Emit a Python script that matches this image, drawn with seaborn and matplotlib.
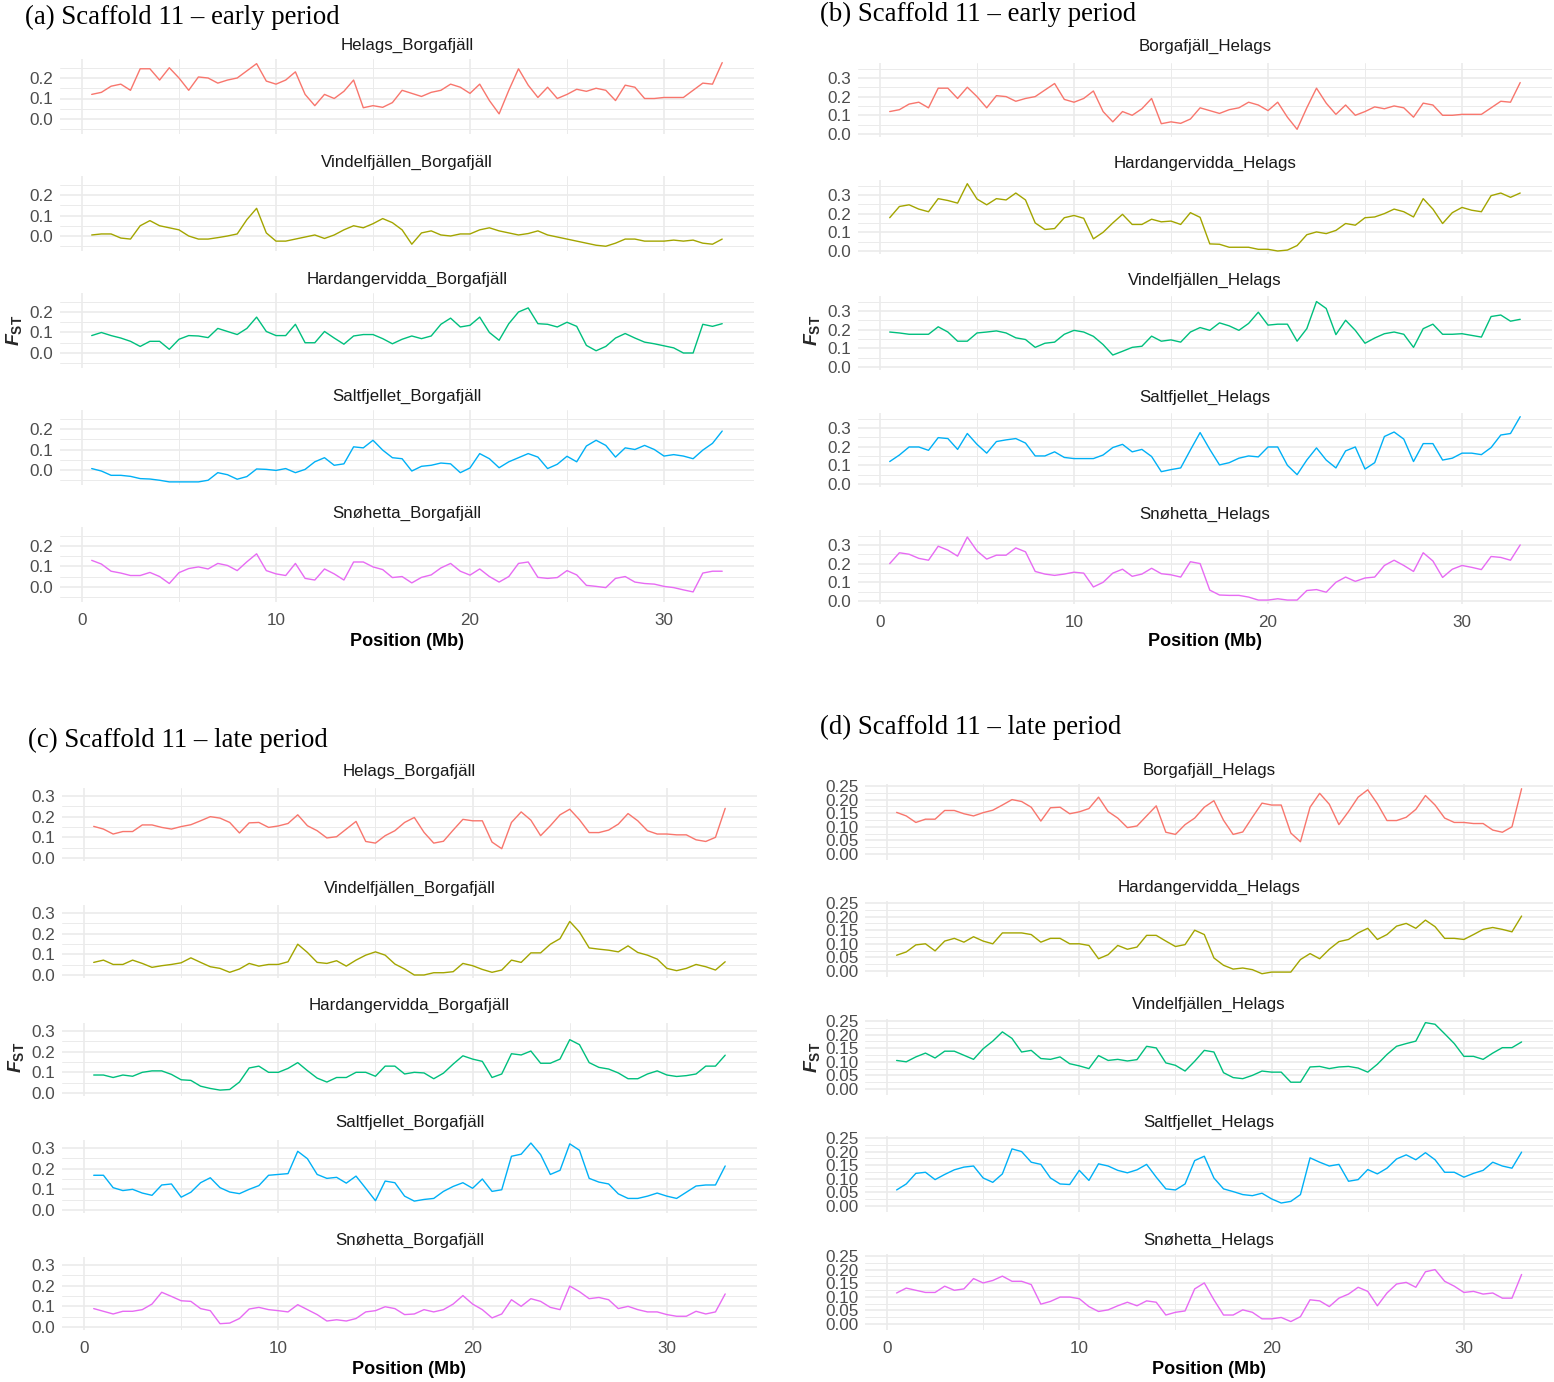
import matplotlib
matplotlib.use("Agg")
import matplotlib.pyplot as plt
import pandas as pd
import seaborn as sns

# window midpoints (Mb)
POS = [0.5, 1.0, 1.5, 2.0, 2.5, 3.0, 3.5, 4.0, 4.5, 5.0, 5.5,
       6.0, 6.5, 7.0, 7.5, 8.0, 8.5, 9.0, 9.5, 10.0, 10.5, 11.0,
       11.5, 12.0, 12.5, 13.0, 13.5, 14.0, 14.5, 15.0, 15.5, 16.0, 16.5,
       17.0, 17.5, 18.0, 18.5, 19.0, 19.5, 20.0, 20.5, 21.0, 21.5, 22.0,
       22.5, 23.0, 23.5, 24.0, 24.5, 25.0, 25.5, 26.0, 26.5, 27.0, 27.5,
       28.0, 28.5, 29.0, 29.5, 30.0, 30.5, 31.0, 31.5, 32.0, 32.5, 33.0]

# ---- early period, Borgafjäll comparisons (a) ----
A_HELAGS = [0.12, 0.13, 0.16, 0.17, 0.14, 0.245, 0.245, 0.19, 0.25, 0.20, 0.14,
            0.205, 0.20, 0.175, 0.19, 0.20, 0.235, 0.27, 0.185, 0.17, 0.19, 0.23,
            0.12, 0.065, 0.12, 0.10, 0.135, 0.19, 0.055, 0.065, 0.057, 0.08, 0.14,
            0.125, 0.11, 0.13, 0.14, 0.17, 0.155, 0.125, 0.17, 0.09, 0.025, 0.14,
            0.245, 0.165, 0.105, 0.155, 0.10, 0.12, 0.145, 0.135, 0.15, 0.14, 0.09,
            0.165, 0.155, 0.10, 0.10, 0.105, 0.105, 0.105, 0.14, 0.175, 0.17, 0.275]
A_VINDEL = [0.005, 0.01, 0.01, -0.01, -0.015, 0.05, 0.075, 0.05, 0.04, 0.03, 0.0,
            -0.015, -0.015, -0.008, 0.0, 0.01, 0.08, 0.135, 0.015, -0.025, -0.025, -0.015,
            -0.005, 0.005, -0.012, 0.005, 0.03, 0.05, 0.04, 0.06, 0.085, 0.065, 0.03,
            -0.04, 0.015, 0.025, 0.005, 0.0, 0.01, 0.01, 0.03, 0.04, 0.025, 0.015,
            0.005, 0.012, 0.025, 0.005, -0.005, -0.015, -0.025, -0.035, -0.045, -0.05, -0.035,
            -0.015, -0.015, -0.025, -0.025, -0.025, -0.02, -0.025, -0.02, -0.035, -0.04, -0.015]
A_HARDANG = [0.085, 0.10, 0.085, 0.073, 0.057, 0.032, 0.057, 0.057, 0.018, 0.067, 0.085,
             0.083, 0.075, 0.12, 0.105, 0.09, 0.12, 0.175, 0.105, 0.085, 0.085, 0.14,
             0.05, 0.05, 0.105, 0.073, 0.043, 0.083, 0.09, 0.09, 0.07, 0.045, 0.067,
             0.083, 0.07, 0.083, 0.14, 0.17, 0.127, 0.135, 0.175, 0.10, 0.062, 0.143,
             0.20, 0.22, 0.143, 0.14, 0.127, 0.15, 0.13, 0.037, 0.011, 0.032, 0.073,
             0.095, 0.073, 0.053, 0.045, 0.035, 0.025, 0.0, 0.0, 0.14, 0.13, 0.143]
A_SALT = [0.007, -0.005, -0.026, -0.026, -0.031, -0.042, -0.044, -0.05, -0.058, -0.058, -0.058,
          -0.058, -0.05, -0.013, -0.023, -0.045, -0.032, 0.005, 0.003, -0.002, 0.007, -0.013,
          0.003, 0.04, 0.06, 0.023, 0.03, 0.113, 0.108, 0.145, 0.097, 0.06, 0.055,
          -0.005, 0.018, 0.023, 0.034, 0.03, -0.013, 0.01, 0.08, 0.055, 0.011, 0.04,
          0.06, 0.08, 0.063, 0.007, 0.028, 0.067, 0.04, 0.117, 0.145, 0.12, 0.063,
          0.108, 0.10, 0.12, 0.10, 0.068, 0.075, 0.068, 0.055, 0.097, 0.13, 0.19]
A_SNO = [0.13, 0.112, 0.077, 0.068, 0.056, 0.056, 0.071, 0.051, 0.017, 0.07, 0.09,
         0.098, 0.088, 0.115, 0.105, 0.08, 0.123, 0.162, 0.08, 0.064, 0.056, 0.115,
         0.042, 0.034, 0.088, 0.064, 0.034, 0.122, 0.122, 0.098, 0.085, 0.046, 0.051,
         0.02, 0.047, 0.059, 0.093, 0.115, 0.077, 0.058, 0.088, 0.051, 0.024, 0.051,
         0.115, 0.122, 0.047, 0.042, 0.046, 0.08, 0.059, 0.008, 0.003, -0.003, 0.042,
         0.051, 0.024, 0.017, 0.014, 0.003, -0.003, -0.014, -0.024, 0.068, 0.077, 0.077]

# ---- early period, Helags comparisons (b) ----
B_BORGA = A_HELAGS
B_HARDANG = [0.178, 0.238, 0.247, 0.224, 0.21, 0.28, 0.27, 0.256, 0.36, 0.278, 0.247,
             0.28, 0.273, 0.31, 0.273, 0.15, 0.115, 0.12, 0.178, 0.19, 0.175, 0.065,
             0.10, 0.15, 0.196, 0.142, 0.142, 0.17, 0.156, 0.16, 0.142, 0.205, 0.18,
             0.038, 0.036, 0.02, 0.02, 0.02, 0.009, 0.009, 0.0, 0.005, 0.029, 0.087,
             0.102, 0.093, 0.11, 0.147, 0.138, 0.178, 0.182, 0.2, 0.224, 0.21, 0.182,
             0.28, 0.224, 0.147, 0.205, 0.233, 0.218, 0.21, 0.296, 0.31, 0.287, 0.31]
B_VINDEL = [0.187, 0.182, 0.175, 0.175, 0.175, 0.215, 0.187, 0.138, 0.138, 0.182, 0.187,
            0.193, 0.182, 0.156, 0.147, 0.105, 0.127, 0.133, 0.175, 0.196, 0.187, 0.164,
            0.12, 0.064, 0.084, 0.105, 0.111, 0.165, 0.138, 0.145, 0.133, 0.187, 0.211,
            0.196, 0.236, 0.22, 0.196, 0.233, 0.293, 0.224, 0.229, 0.229, 0.138, 0.205,
            0.35, 0.313, 0.173, 0.25, 0.196, 0.127, 0.155, 0.178, 0.187, 0.175, 0.105,
            0.205, 0.229, 0.175, 0.175, 0.178, 0.169, 0.16, 0.27, 0.278, 0.245, 0.255]
B_SALT = [0.12, 0.155, 0.198, 0.198, 0.18, 0.248, 0.243, 0.185, 0.27, 0.212, 0.165,
          0.227, 0.236, 0.243, 0.219, 0.15, 0.15, 0.172, 0.142, 0.136, 0.136, 0.136,
          0.155, 0.195, 0.212, 0.172, 0.185, 0.147, 0.066, 0.077, 0.086, 0.182, 0.275,
          0.185, 0.102, 0.114, 0.138, 0.15, 0.145, 0.198, 0.198, 0.10, 0.05, 0.128,
          0.193, 0.128, 0.086, 0.177, 0.198, 0.08, 0.114, 0.254, 0.278, 0.24, 0.12,
          0.216, 0.216, 0.128, 0.138, 0.165, 0.165, 0.157, 0.195, 0.262, 0.27, 0.36]
B_SNO = [0.2, 0.258, 0.25, 0.228, 0.218, 0.293, 0.272, 0.24, 0.342, 0.268, 0.224,
         0.245, 0.245, 0.284, 0.263, 0.158, 0.144, 0.137, 0.144, 0.154, 0.149, 0.075,
         0.10, 0.149, 0.17, 0.132, 0.144, 0.175, 0.146, 0.14, 0.128, 0.21, 0.2,
         0.058, 0.032, 0.03, 0.03, 0.021, 0.005, 0.005, 0.012, 0.005, 0.005, 0.056,
         0.061, 0.047, 0.10, 0.128, 0.105, 0.123, 0.128, 0.19, 0.218, 0.19, 0.158,
         0.258, 0.214, 0.126, 0.17, 0.19, 0.18, 0.168, 0.238, 0.233, 0.218, 0.3]

# ---- late period, Borgafjäll comparisons (c) ----
C_HELAGS = [0.153, 0.14, 0.116, 0.128, 0.128, 0.16, 0.16, 0.148, 0.14, 0.152, 0.161,
            0.18, 0.2, 0.193, 0.172, 0.121, 0.17, 0.172, 0.148, 0.155, 0.167, 0.209,
            0.156, 0.132, 0.097, 0.103, 0.14, 0.177, 0.08, 0.072, 0.108, 0.132, 0.172,
            0.196, 0.124, 0.072, 0.081, 0.135, 0.187, 0.18, 0.18, 0.077, 0.045, 0.172,
            0.223, 0.183, 0.108, 0.156, 0.209, 0.236, 0.185, 0.123, 0.123, 0.135, 0.164,
            0.215, 0.18, 0.132, 0.116, 0.116, 0.112, 0.112, 0.088, 0.08, 0.10, 0.24]
C_VINDEL = [0.061, 0.072, 0.051, 0.051, 0.072, 0.056, 0.037, 0.045, 0.051, 0.059, 0.083,
            0.061, 0.04, 0.032, 0.013, 0.029, 0.056, 0.043, 0.051, 0.051, 0.064, 0.149,
            0.109, 0.061, 0.056, 0.069, 0.043, 0.072, 0.096, 0.112, 0.096, 0.053, 0.029,
            0.0, 0.0, 0.011, 0.011, 0.016, 0.056, 0.045, 0.027, 0.013, 0.024, 0.072,
            0.061, 0.107, 0.107, 0.149, 0.176, 0.259, 0.208, 0.131, 0.125, 0.12, 0.112,
            0.141, 0.109, 0.096, 0.077, 0.032, 0.021, 0.032, 0.051, 0.04, 0.024, 0.064]
C_HARDANG = [0.087, 0.087, 0.075, 0.087, 0.081, 0.1, 0.107, 0.107, 0.09, 0.064, 0.061,
             0.033, 0.022, 0.014, 0.017, 0.053, 0.121, 0.13, 0.1, 0.1, 0.119, 0.147,
             0.108, 0.072, 0.053, 0.075, 0.075, 0.1, 0.1, 0.081, 0.13, 0.13, 0.092,
             0.1, 0.097, 0.069, 0.096, 0.14, 0.18, 0.164, 0.153, 0.075, 0.092, 0.19,
             0.184, 0.203, 0.144, 0.144, 0.164, 0.258, 0.234, 0.147, 0.124, 0.116, 0.097,
             0.069, 0.069, 0.092, 0.107, 0.087, 0.08, 0.084, 0.092, 0.13, 0.13, 0.183]
C_SALT = [0.168, 0.168, 0.108, 0.094, 0.1, 0.082, 0.071, 0.121, 0.126, 0.062, 0.086,
          0.132, 0.156, 0.108, 0.087, 0.079, 0.1, 0.118, 0.168, 0.172, 0.176, 0.284,
          0.248, 0.172, 0.153, 0.158, 0.13, 0.164, 0.105, 0.045, 0.14, 0.132, 0.067,
          0.043, 0.051, 0.056, 0.09, 0.114, 0.132, 0.105, 0.15, 0.09, 0.098, 0.26,
          0.27, 0.324, 0.268, 0.172, 0.192, 0.32, 0.289, 0.153, 0.135, 0.126, 0.078,
          0.056, 0.056, 0.067, 0.082, 0.067, 0.056, 0.086, 0.116, 0.121, 0.121, 0.213]
C_SNO = [0.089, 0.076, 0.063, 0.076, 0.076, 0.084, 0.111, 0.168, 0.148, 0.127, 0.124,
         0.089, 0.079, 0.016, 0.019, 0.041, 0.087, 0.095, 0.084, 0.079, 0.073, 0.108,
         0.084, 0.06, 0.029, 0.035, 0.029, 0.041, 0.073, 0.079, 0.098, 0.089, 0.06,
         0.063, 0.084, 0.073, 0.084, 0.111, 0.152, 0.111, 0.084, 0.044, 0.063, 0.132,
         0.1, 0.137, 0.124, 0.095, 0.084, 0.198, 0.171, 0.137, 0.143, 0.132, 0.089,
         0.1, 0.084, 0.073, 0.073, 0.06, 0.052, 0.052, 0.076, 0.063, 0.073, 0.16]

# ---- late period, Helags comparisons (d) ----
D_BORGA = C_HELAGS
D_HARDANG = [0.058, 0.07, 0.096, 0.10, 0.074, 0.11, 0.12, 0.106, 0.126, 0.11, 0.10,
             0.14, 0.14, 0.14, 0.134, 0.106, 0.12, 0.12, 0.10, 0.10, 0.094, 0.045,
             0.06, 0.094, 0.08, 0.088, 0.131, 0.131, 0.11, 0.09, 0.097, 0.15, 0.134,
             0.048, 0.021, 0.007, 0.011, 0.005, -0.01, -0.004, -0.004, -0.004, 0.042, 0.064,
             0.045, 0.08, 0.108, 0.116, 0.14, 0.157, 0.116, 0.134, 0.165, 0.175, 0.157,
             0.187, 0.163, 0.12, 0.12, 0.116, 0.134, 0.153, 0.16, 0.153, 0.144, 0.202]
D_VINDEL = [0.105, 0.10, 0.118, 0.132, 0.114, 0.139, 0.139, 0.124, 0.109, 0.148, 0.176,
            0.21, 0.186, 0.136, 0.142, 0.112, 0.109, 0.118, 0.093, 0.085, 0.075, 0.123,
            0.105, 0.109, 0.103, 0.108, 0.157, 0.151, 0.096, 0.087, 0.066, 0.102, 0.142,
            0.136, 0.06, 0.042, 0.038, 0.05, 0.066, 0.062, 0.062, 0.025, 0.025, 0.081,
            0.083, 0.075, 0.081, 0.083, 0.077, 0.062, 0.091, 0.127, 0.157, 0.167, 0.176,
            0.244, 0.238, 0.203, 0.167, 0.12, 0.12, 0.109, 0.132, 0.152, 0.152, 0.173]
D_SALT = [0.059, 0.081, 0.12, 0.124, 0.097, 0.116, 0.133, 0.143, 0.147, 0.103, 0.087,
          0.118, 0.21, 0.2, 0.161, 0.153, 0.103, 0.081, 0.079, 0.131, 0.094, 0.155,
          0.147, 0.131, 0.122, 0.133, 0.153, 0.106, 0.063, 0.059, 0.081, 0.167, 0.183,
          0.103, 0.063, 0.053, 0.042, 0.038, 0.047, 0.026, 0.011, 0.017, 0.042, 0.177,
          0.161, 0.147, 0.153, 0.091, 0.097, 0.134, 0.118, 0.139, 0.173, 0.188, 0.17,
          0.196, 0.17, 0.124, 0.124, 0.106, 0.12, 0.131, 0.161, 0.147, 0.139, 0.198]
D_SNO = [0.114, 0.132, 0.124, 0.116, 0.116, 0.139, 0.124, 0.129, 0.167, 0.151, 0.16,
         0.176, 0.157, 0.157, 0.145, 0.073, 0.083, 0.099, 0.099, 0.093, 0.064, 0.046,
         0.052, 0.067, 0.08, 0.067, 0.085, 0.08, 0.033, 0.043, 0.048, 0.129, 0.151,
         0.089, 0.033, 0.033, 0.052, 0.043, 0.019, 0.019, 0.024, 0.009, 0.027, 0.089,
         0.085, 0.064, 0.095, 0.11, 0.135, 0.12, 0.067, 0.114, 0.147, 0.153, 0.135,
         0.192, 0.2, 0.157, 0.139, 0.116, 0.12, 0.11, 0.114, 0.095, 0.095, 0.182]

COLORS = ["#F8766D", "#A3A500", "#00BF7D", "#00B0F6", "#E76BF3"]

PANELS = [
    dict(title="(a) Scaffold 11 \u2013 early period",
         pairs=["Helags_Borgafjäll", "Vindelfjällen_Borgafjäll", "Hardangervidda_Borgafjäll",
                "Saltfjellet_Borgafjäll", "Snøhetta_Borgafjäll"],
         series=[A_HELAGS, A_VINDEL, A_HARDANG, A_SALT, A_SNO],
         yticks=[0.0, 0.1, 0.2], fmt="{:.1f}",
         x0=82, xs=19.4, zeros=[119, 236, 353, 470, 587], ys=205,
         strips=[45, 162, 279, 396, 513],
         title_xy=(25, 17), ylab_xy=(14, 330), xlab_y=642),
    dict(title="(b) Scaffold 11 \u2013 early period",
         pairs=["Borgafjäll_Helags", "Hardangervidda_Helags", "Vindelfjällen_Helags",
                "Saltfjellet_Helags", "Snøhetta_Helags"],
         series=[B_BORGA, B_HARDANG, B_VINDEL, B_SALT, B_SNO],
         yticks=[0.0, 0.1, 0.2, 0.3], fmt="{:.1f}",
         x0=880, xs=19.4, zeros=[134, 251, 367, 484, 601], ys=187,
         strips=[46, 163, 280, 397, 514],
         title_xy=(820, 14), ylab_xy=(812, 330), xlab_y=642),
    dict(title="(c) Scaffold 11 \u2013 late period",
         pairs=["Helags_Borgafjäll", "Vindelfjällen_Borgafjäll", "Hardangervidda_Borgafjäll",
                "Saltfjellet_Borgafjäll", "Snøhetta_Borgafjäll"],
         series=[C_HELAGS, C_VINDEL, C_HARDANG, C_SALT, C_SNO],
         yticks=[0.0, 0.1, 0.2, 0.3], fmt="{:.1f}",
         x0=84, xs=19.43, zeros=[858, 975, 1093, 1210, 1327], ys=206.7,
         strips=[771, 888, 1005, 1122, 1240],
         title_xy=(28, 740), ylab_xy=(16, 1057), xlab_y=1369),
    dict(title="(d) Scaffold 11 \u2013 late period",
         pairs=["Borgafjäll_Helags", "Hardangervidda_Helags", "Vindelfjällen_Helags",
                "Saltfjellet_Helags", "Snøhetta_Helags"],
         series=[D_BORGA, D_HARDANG, D_VINDEL, D_SALT, D_SNO],
         yticks=[0.0, 0.05, 0.10, 0.15, 0.20, 0.25], fmt="{:.2f}",
         x0=887, xs=19.23, zeros=[854, 971, 1089, 1206, 1324], ys=272,
         strips=[770, 887, 1004, 1122, 1240],
         title_xy=(820, 727), ylab_xy=(812, 1057), xlab_y=1369),
]

sns.set_theme(style="white")
plt.rcParams["font.family"] = ["Liberation Sans Narrow", "Liberation Sans", "DejaVu Sans"]
plt.rcParams["mathtext.fontset"] = "custom"
plt.rcParams["mathtext.it"] = "Liberation Sans:italic:bold"
plt.rcParams["mathtext.rm"] = "Liberation Sans:bold"

W, H = 1554, 1382
fig = plt.figure(figsize=(W / 100, H / 100), dpi=100)
GRID = "#EBEBEB"
XLIM = (-1.125, 34.625)

for p in PANELS:
    df = pd.concat([pd.DataFrame({"pos": POS, "fst": v, "pair": name})
                    for name, v in zip(p["pairs"], p["series"])])
    lo, hi = df["fst"].min(), df["fst"].max()
    pad = (hi - lo) * 0.05
    ylim = (lo - pad, hi + pad)
    left = p["x0"] + XLIM[0] * p["xs"]
    right = p["x0"] + XLIM[1] * p["xs"]
    step = p["yticks"][1] - p["yticks"][0]
    yminor = [t + step / 2 for t in [p["yticks"][0] - step] + p["yticks"]]

    for i, name in enumerate(p["pairs"]):
        top = p["zeros"][i] - ylim[1] * p["ys"]
        bottom = p["zeros"][i] - ylim[0] * p["ys"]
        ax = fig.add_axes([left / W, 1 - bottom / H, (right - left) / W, (bottom - top) / H])
        sns.lineplot(data=df[df["pair"] == name], x="pos", y="fst", ax=ax,
                     color=COLORS[i], linewidth=1.0)
        ax.set_xlim(*XLIM)
        ax.set_ylim(*ylim)
        ax.set_xticks([0, 10, 20, 30])
        ax.set_xticks([5, 15, 25], minor=True)
        ax.set_yticks(p["yticks"])
        ax.set_yticks([m for m in yminor if ylim[0] < m < ylim[1]], minor=True)
        ax.set_yticklabels([p["fmt"].format(t) for t in p["yticks"]])
        ax.grid(which="major", color=GRID, linewidth=1.2)
        ax.grid(which="minor", color=GRID, linewidth=0.7)
        ax.set_axisbelow(True)
        for s in ax.spines.values():
            s.set_visible(False)
        ax.tick_params(which="both", length=0)
        ax.tick_params(axis="y", labelsize=12.3, labelcolor="#4D4D4D", pad=5)
        ax.tick_params(axis="x", labelsize=12.3, labelcolor="#4D4D4D", pad=8)
        ax.set_xlabel("")
        ax.set_ylabel("")
        if i < 4:
            ax.set_xticklabels([])
        fig.text((left + right) / 2 / W, 1 - p["strips"][i] / H, name,
                 ha="center", va="center", fontsize=12.2, color="#1A1A1A")

    fig.text((left + right) / 2 / W, 1 - p["xlab_y"] / H, "Position (Mb)",
             ha="center", va="center", fontsize=13, fontweight="bold", color="black")
    fig.text(p["ylab_xy"][0] / W, 1 - p["ylab_xy"][1] / H, r"$F_{\mathrm{ST}}$",
             rotation=90, ha="center", va="center", fontsize=14)
    fig.text(p["title_xy"][0] / W, 1 - p["title_xy"][1] / H, p["title"],
             ha="left", va="center", fontsize=19.3, family="Liberation Serif", color="black")

fig.savefig("out.png", dpi=100)
